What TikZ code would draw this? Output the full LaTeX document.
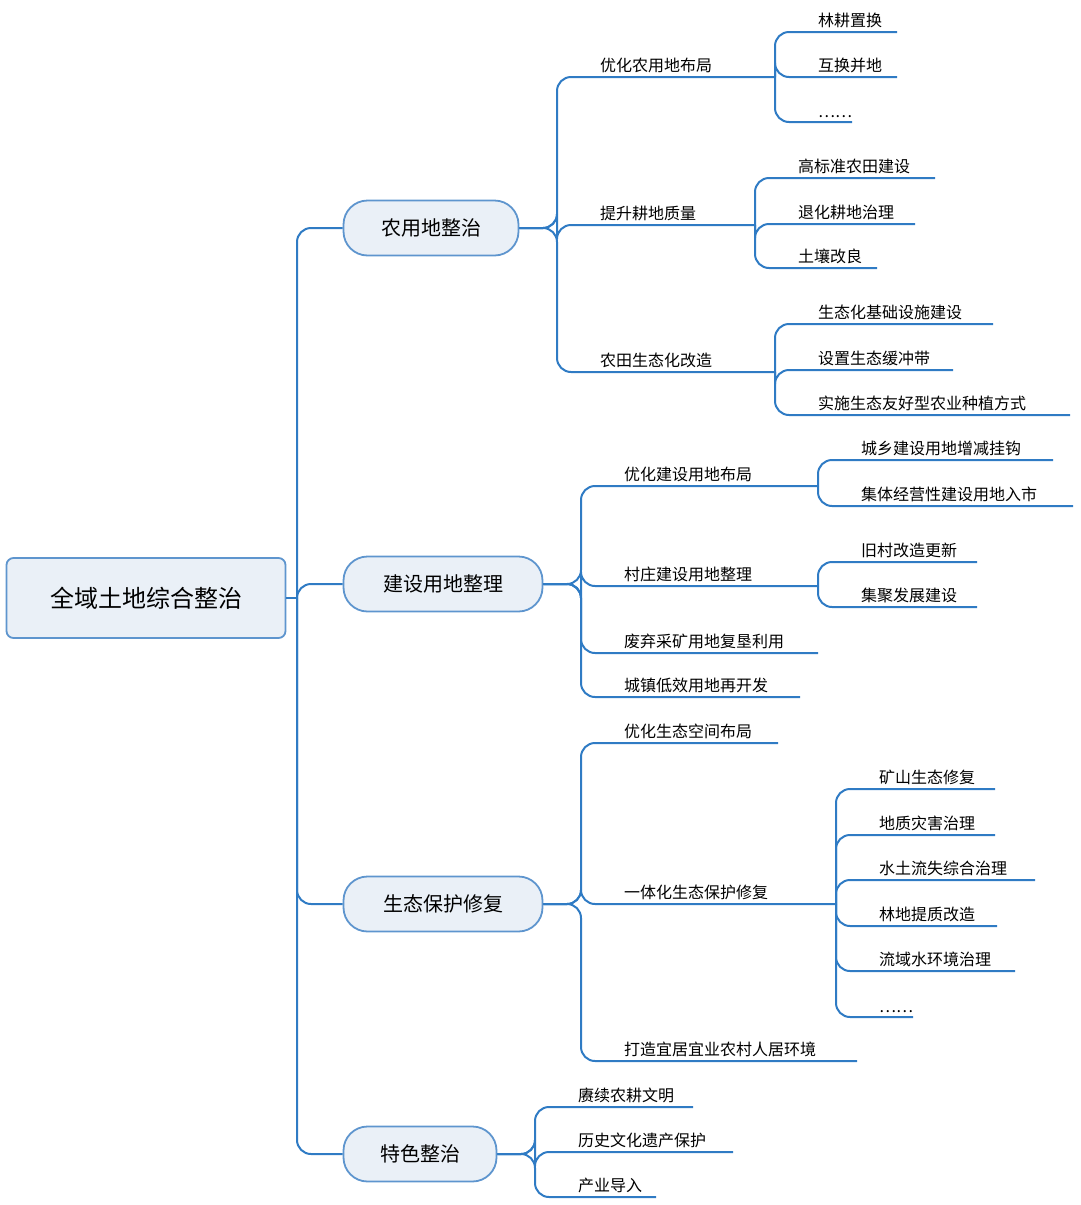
\documentclass[tikz,border=0pt]{standalone}
\usepackage{fontspec}
\setmainfont{Noto Sans CJK SC}
\definecolor{linkblue}{HTML}{2F7BC4}
\definecolor{boxblue}{HTML}{5E95CE}
\definecolor{boxfill}{HTML}{EAF0F7}
\begin{document}
\begin{tikzpicture}[x=1pt, y=-1pt,
    link/.style={draw=linkblue, line width=2pt, rounded corners=14pt},
    rootbox/.style={draw=boxblue, line width=1.8pt, fill=boxfill, rounded corners=7pt,
      font=\fontsize{24}{28}\selectfont, minimum width=279pt, minimum height=80pt},
    topic/.style={draw=boxblue, line width=1.8pt, fill=boxfill, rounded corners=24pt,
      font=\fontsize{20}{24}\selectfont, minimum height=55pt},
    leaf/.style={anchor=south west, font=\fontsize{16}{19}\selectfont, inner sep=3pt}
]
    \useasboundingbox (0,0) rectangle (1080,1205);

    % Root and topics
    \node[rootbox] (root) at (146,598) {全域土地综合整治};
    \node[topic, minimum width=175pt] (t1) at (431,228) {农用地整治};
    \node[topic, minimum width=199pt] (t2) at (443,584) {建设用地整理};
    \node[topic, minimum width=199pt] (t3) at (443,904) {生态保护修复};
    \node[topic, minimum width=153pt] (t4) at (420,1154) {特色整治};
    \coordinate (rj) at (297,598);
    \draw[link] (root.east) -- (rj);
    \foreach \t in {1,...,4} {
        \draw[link] (rj) |- (t\t.west);
    }

    % Level 2: name/text/underline y/end x/branch x/topic
    \foreach \n/\s/\y/\e/\b/\p in {
        a1/优化农用地布局/77/775/557/t1, a2/提升耕地质量/225/755/557/t1, a3/农田生态化改造/372/775/557/t1,
        b1/优化建设用地布局/486/818/581/t2, b2/村庄建设用地整理/586/818/581/t2,
        b3/废弃采矿用地复垦利用/653/818/581/t2, b4/城镇低效用地再开发/697/800/581/t2,
        c1/优化生态空间布局/743/778/581/t3, c2/一体化生态保护修复/904/836/581/t3,
        c3/打造宜居宜业农村人居环境/1061/857/581/t3,
        d1/赓续农耕文明/1107/693/535/t4, d2/历史文化遗产保护/1152/733/535/t4, d3/产业导入/1197/656/535/t4} {
        \node[leaf] (\n) at (\b+40,\y-1) {\s};
        \coordinate (\n e) at (\e,\y);
        \draw[link] (\p.east) -| (\b,\y) -- (\n e);
    }

    % Level 3: text/underline y/end x/branch x/parent
    \foreach \s/\y/\e/\b/\p in {
        林耕置换/32/897/775/a1, 互换并地/77/897/775/a1, ……/122/852/775/a1,
        高标准农田建设/178/935/755/a2, 退化耕地治理/224/915/755/a2, 土壤改良/268/877/755/a2,
        生态化基础设施建设/324/993/775/a3, 设置生态缓冲带/370/953/775/a3,
        实施生态友好型农业种植方式/415/1070/775/a3,
        城乡建设用地增减挂钩/460/1053/818/b1, 集体经营性建设用地入市/506/1073/818/b1,
        旧村改造更新/562/977/818/b2, 集聚发展建设/607/977/818/b2,
        矿山生态修复/789/995/836/c2, 地质灾害治理/835/995/836/c2, 水土流失综合治理/880/1035/836/c2,
        林地提质改造/926/997/836/c2, 流域水环境治理/971/1015/836/c2, ……/1017/913/836/c2} {
        \node[leaf] (l\y) at (\b+40,\y-1) {\s};
        \coordinate (l\y e) at (\e,\y);
        \draw[link] (\p e) |- (l\y e);
    }
\end{tikzpicture}
\end{document}
